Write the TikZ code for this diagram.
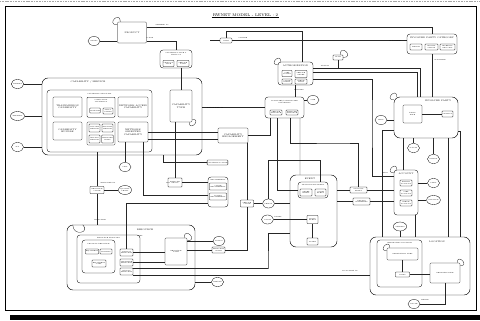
\documentclass[tikz,border=0pt]{standalone}
\usetikzlibrary{arrows.meta, positioning, shapes.geometric}
\newcommand\lbl{\fontsize{3.1}{3.5}\selectfont}
\newcommand\tnl{\fontsize{2.1}{2.4}\selectfont}

\begin{document}
\begin{tikzpicture}[
  x=0.5mm, y=-0.5mm,
  line width=0.45pt,
  wh/.style 2 args={minimum width=#1*0.5mm, minimum height=#2*0.5mm},
  ent/.style={rectangle, draw, rounded corners=0.5mm, inner sep=0.3mm, align=center, font=\lbl},
  sub/.style={rectangle, draw, rounded corners=0.3mm, inner sep=0.2mm, align=center, font=\tnl},
  grp/.style={rectangle, draw, rounded corners=3mm, line width=0.6pt},
  grpin/.style={rectangle, draw, rounded corners=1.5mm},
  ext/.style={ellipse, draw, wh={12}{9}, inner sep=0pt, align=center, font=\tnl},
  hdr/.style={font=\lbl, inner sep=0.2mm},
  tag/.style={font=\tnl, inner sep=0.2mm, align=left},
  rel/.style={draw=black!85}
]
\useasboundingbox (0,0) rectangle (480,320);

% Frame and title
\draw[black!35, line width=1.4pt, dash pattern=on 1.5pt off 0.8pt] (0,1.3) -- (480,1.3);
\draw[line width=0.9pt] (5,6.5) rectangle (476,310);
\fill[black] (10,314.5) rectangle (480,320);
\node[font=\fontsize{5.6}{6}\selectfont, inner sep=0.4mm] (title) at (245.5,15) {RWNET MODEL - LEVEL : 2};
\draw (title.south west) -- (title.south east);

% Product and top row
\node[ent, wh={29}{21}] (product) at (132,32.5) {PRODUCT};
\node[ext] (o1) at (94,41) {GOODS};
\node[ent, wh={12}{5}, font=\tnl] (date) at (226,40.5) {DATE};
\coordinate (dfree) at (210,40.5);
\node[grpin, wh={50}{20}] (ipc) at (432,44) {};
\node[hdr] (ipclbl) at (432,38) {INVOLVED PARTY CATEGORY};
\node[sub, wh={12}{6}] (ipc1) at (416,47) {PERSON};
\node[sub, wh={13}{6}] (ipc2) at (431.5,47) {ORGANI-\\SATION};
\node[sub, wh={15}{6}] (ipc3) at (447.5,47) {INTERNAL\\ORG UNIT};
\node[sub, wh={10}{5}] (smallT) at (338,57.5) {RULE};

% Capability type and product
\node[grpin, wh={32}{18}] (ctp) at (176,59) {};
\node[hdr, font=\tnl, align=center] (ctplbl) at (176,54) {CAPABILITY TYPE \&\\PRODUCT};
\node[sub, wh={11}{6}] (ctp1) at (168.5,63.5) {PRODUCT\\TYPE};
\node[sub, wh={12}{6}] (ctp2) at (183,63.5) {SERVICE\\TYPE};

% Authorization and activated capability
\node[grpin, wh={35}{23}] (auth) at (295.5,73.5) {};
\node[hdr] (authlbl) at (295.5,66) {AUTHORIZATION};
\node[sub, wh={10}{6}] (au1) at (287,73.5) {USER\\ACCESS};
\node[sub, wh={12}{7}] (au2) at (301,74) {SERVICE\\ORDER};
\node[sub, wh={10}{5}] (au3) at (287,81.5) {USAGE\\RIGHT};
\node[sub, wh={12}{5}] (au4) at (301,81.5) {CREDIT\\LIMIT};
\node[grpin, wh={39}{21}] (actcap) at (284.5,107.5) {};
\node[hdr, font=\tnl, align=center] (actcaplbl) at (284.5,102) {ACTIVATED/CONTRACTED\\CAPABILITY};
\node[sub, wh={12}{5}] (ac1) at (276,112.5) {SERVICE\\INSTANCE};
\node[sub, wh={12}{5}] (ac2) at (292,112.5) {FEATURE\\INSTANCE};
\node[ext] (o19) at (313,100) {SITE};

% Capability / service
\node[grp, wh={160}{77}] (capsvc) at (122,116.5) {};
\node[hdr] (capsvclbl) at (88,81.5) {CAPABILITY / SERVICE};
\node[grpin, wh={105}{62}] (capgrp) at (99.5,121) {};
\node[hdr, font=\tnl] (capgrplbl) at (99.5,93.5) {CAPABILITY GROUPING};
\node[ent, wh={29}{20}] (trans) at (67.5,107) {TRANSMISSION\\CAPABILITY};
\node[ent, wh={28}{20}, anchor=north, font=\tnl] (comp) at (101,97) {COMPUTING\\CAPABILITY\\[5.5mm]};
\node[sub, wh={10}{5}] (comp1) at (95,110.5) {STORAGE};
\node[sub, wh={10}{6}] (comp2) at (108,111) {APPLI-\\CATION};
\node[ent, wh={30}{20}] (netacc) at (133,107) {NETWORK ACCESS\\CAPABILITY};
\node[ent, wh={29}{18}] (capbund) at (67.5,131) {CAPABILITY\\BUNDLE};
\node[ent, wh={28}{23}] (cgmid) at (101,133.5) {};
\node[sub, wh={11}{8}] (cg1) at (94.5,128) {SUPPORT\\SERVICE};
\node[sub, wh={11}{8}] (cg2) at (107.5,128) {SECURITY\\SERVICE};
\node[sub, wh={11}{8}] (cg3) at (94.5,139) {BILLING\\SERVICE};
\node[sub, wh={11}{8}] (cg4) at (107.5,139) {NETWORK\\MGMT};
\node[ent, wh={30}{20}] (netor) at (133,132) {NETWORK\\ORIENTED\\CAPABILITY};
\node[ent, wh={22}{32}] (captype) at (181,106) {CAPABILITY\\TYPE};
\node[ext] (o2) at (17.5,84) {MARKET};
\node[ext] (o3) at (17.5,116) {SEGMENT};
\node[ext] (o4) at (17.5,147) {SLA};

% Middle area
\node[ent, wh={30}{15}] (capeng) at (233,135.5) {CAPABILITY\\ENGAGEMENT};
\node[sub, wh={15}{5}] (smallA) at (217.5,162.5) {CAPABILITY USAGE};
\node[grpin, wh={20}{30}] (entl) at (218,192) {};
\node[hdr, font=\tnl, align=center] (entllbl) at (218,180) {ENTITLEMENT};
\node[sub, wh={17}{7}] (en1) at (218,186.5) {USAGE\\ENTITLEMENT};
\node[sub, wh={17}{7}] (en2) at (218,196.5) {ACCESS\\ENTITLEMENT};
\node[sub, wh={14}{9}] (boxP) at (175,182.5) {FEATURE\\GROUP};
\node[sub, wh={14}{7}] (boxQ) at (97,190) {RESOURCE\\USAGE};
\node[ext] (o5) at (125,167) {UNIT};
\node[ext] (o6) at (125,190) {QUALITY\\LEVEL};
\node[sub, wh={13}{7}] (boxR) at (247,203.5) {SERVICE\\USAGE};
\node[ext] (o8) at (268.5,203.5) {PERIOD};
\node[ext] (o9) at (219,241) {STATUS};
\node[sub, wh={13}{6}] (boxS) at (218.5,250) {RESOURCE\\STATE};
\node[ext] (o10) at (217.5,282) {VENDOR};
\node[ext] (o11) at (267.5,219.5) {CAUSE};

% Event
\node[grp, wh={47}{72}] (event) at (313.5,211) {};
\node[hdr] (eventlbl) at (310,178.5) {EVENT};
\node[grpin, wh={30}{16}] (eventin) at (313,190) {};
\node[hdr, font=\tnl] (eventinlbl) at (313,184.5) {TRANSACTION EVENT};
\node[sub, wh={12}{7}] (ev1) at (306,192.5) {ORDER\\EVENT};
\node[sub, wh={11}{7}] (ev2) at (320.5,192.5) {USAGE\\EVENT};
\node[sub, wh={11}{8}] (boxE1) at (312.5,219.5) {FAULT\\EVENT};
\node[sub, wh={11}{7}] (boxE2) at (312.5,241.5) {ALARM};
\node[sub, wh={17}{6}] (box1) at (358.5,190) {ACCOUNT\\ENTRY};
\node[sub, wh={17}{7}] (box2) at (361.5,201.5) {BILLING\\STATEMENT};

% Involved party and account
\node[grp, wh={64}{41}] (ip) at (426,117.5) {};
\node[hdr] (iplbl) at (438,101) {INVOLVED PARTY};
\node[ent, wh={19}{18}, font=\tnl] (ipn) at (412.5,114) {PARTY\\ROLE};
\node[sub, wh={11}{6}] (person) at (447.5,114) {CONTACT};
\node[ext] (o12) at (381,120) {SKILL};
\node[ext] (o13) at (413.5,148) {SUPPLY};
\node[ext] (o14) at (433.5,159) {RATING};
\node[ext] (o15) at (433.5,183) {LIMIT};
\node[ext] (o16) at (433.5,200) {BALANCE};
\node[grpin, wh={24}{45}] (account) at (406,192.5) {};
\node[hdr] (accountlbl) at (406,173.5) {ACCOUNT};
\node[sub, wh={12}{6}] (acc1) at (406,183) {BILLING\\ACCOUNT};
\node[sub, wh={12}{6}] (acc2) at (406,193) {USER\\ACCOUNT};
\node[sub, wh={12}{6}] (acc3) at (406,203) {CREDIT\\ACCOUNT};
\node[ext] (o17) at (400,226.5) {ADDRESS};

% Location
\node[grp, wh={100}{58}] (location) at (420,266) {};
\node[hdr] (locationlbl) at (437,242) {LOCATION};
\node[grpin, wh={45}{47}] (geoloc) at (399.5,263.5) {};
\node[hdr, font=\tnl] (geoloclbl) at (399.5,243) {GEOGRAPHIC LOCATION};
\node[ent, wh={31}{12}, font=\tnl] (geoarea) at (402.5,254) {GEOGRAPHIC AREA};
\node[sub, wh={14}{5}] (geosmall) at (402.5,274.5) {POINT};
\node[ent, wh={30}{20}, font=\tnl] (netnode) at (445,273) {NETWORK NODE};
\node[ext] (o18) at (414,304) {ROUTE};

% Resource
\node[grp, wh={128}{65}] (resource) at (131,257.5) {};
\node[hdr] (resourcelbl) at (145,230) {RESOURCE};
\node[grpin, wh={63}{48}] (physres) at (108.5,259) {};
\node[hdr, font=\tnl] (physreslbl) at (108.5,237.5) {RESOURCE GROUPING};
\node[grpin, wh={33}{33}] (physin) at (98.5,256.5) {};
\node[hdr, font=\tnl] (physinlbl) at (98.5,243.5) {PHYSICAL RESOURCE};
\node[sub, wh={12}{5}] (pr1) at (92,251.5) {EQUIPMENT};
\node[sub, wh={12}{5}] (pr2) at (106,251.5) {FACILITY};
\node[sub, wh={14}{7}] (pr3) at (99,263.5) {EQUIPMENT\\PART};
\node[sub, wh={13}{7}] (rb1) at (126.5,252.5) {LOGICAL\\RESOURCE};
\node[sub, wh={13}{7}] (rb2) at (126.5,262.5) {SOFTWARE\\RESOURCE};
\node[sub, wh={13}{7}] (rb3) at (126.5,271.5) {CIRCUIT\\RESOURCE};
\node[ent, wh={22}{27}, font=\tnl] (restype) at (176,251.5) {RESOURCE\\TYPE};

% Self loops
\draw[rel] ([xshift=1.5mm]product.north west) .. controls +(0,-12) and +(-12,0) .. ([yshift=-1.5mm]product.north west);
\draw[rel] ([xshift=1.5mm]auth.north west) .. controls +(0,-10) and +(-10,0) .. ([yshift=-1.5mm]auth.north west);
\draw[rel] ([xshift=-1.5mm]smallT.north east) .. controls +(0,-12) and +(12,0) .. (smallT.east);
\draw[rel] ([xshift=1.5mm]ip.north west) .. controls +(0,-10) and +(-10,0) .. ([yshift=-1.5mm]ip.north west);
\draw[rel] ([xshift=1.5mm]account.north west) .. controls +(0,-10) and +(-10,0) .. ([yshift=-1.5mm]account.north west);
\draw[rel] ([yshift=1.5mm]captype.south east) .. controls +(10,0) and +(0,10) .. ([xshift=-1.5mm]captype.south east);
\draw[rel] ([xshift=3mm]resource.north west) .. controls +(0,12) and +(8,8) .. ([xshift=8mm]resource.north west);
\draw[rel] ([xshift=-1.5mm]restype.north east) .. controls +(0,-12) and +(12,0) .. ([yshift=-1.5mm]restype.north east);
\draw[rel] ([xshift=1.5mm]geoarea.north west) .. controls +(0,-10) and +(-10,0) .. ([yshift=-1.5mm]geoarea.north west);
\draw[rel] ([xshift=-1.5mm]netnode.north east) .. controls +(0,-10) and +(10,0) .. ([yshift=-1.5mm]netnode.north east);

% Top connectors
\coordinate (b1) at (302,31);
\coordinate (b6) at (338,68);
\draw[rel] (o1.east) -- (o1.east -| product.west);
\draw[rel] ([yshift=-4.25mm]product.east) -| (ctp.north);
\draw[rel] ([yshift=2.5mm]product.east) -| (ipc.north);
\draw[rel] (date.west) -- (dfree);
\draw[rel] (date.east) -- (date.east -| ipc.west);
\draw[rel] (date.north) |- (b1) -- (b1 |- auth.north);
\draw[rel] (ipc.south) -- (ipc.south |- ip.north);
\draw[rel] (captype.north) -- (captype.north |- ctp.south);
\draw[rel] (auth.south) -- (auth.south |- actcap.north);
\draw[rel] ([yshift=2.75mm]auth.east) -| ([xshift=-3mm]ip.north);
\draw[rel] ([yshift=0.75mm]auth.east) -| ([xshift=-4.5mm]ip.north);
\draw[rel] (smallT.south) -- (b6);
\draw[rel] (o19.west) -- (o19.west -| actcap.east);

% Capability connectors
\draw[rel] (o2.east) -- (o2.east -| capsvc.west);
\draw[rel] (o3.east) -- (o3.east -| capsvc.west);
\draw[rel] (o4.east) -- (o4.east -| capsvc.west);
\draw[rel] (capsvc.east |- actcap.west) -- (actcap.west);
\draw[rel] (netor.east) -- (netor.east -| capeng.west);
\draw[rel] ([yshift=-3.5mm]netor.east) -- ([yshift=-3.5mm]netor.east -| capeng.west);
\draw[rel] (capeng.east) -| ([xshift=-7mm]actcap.south);
\draw[rel] (boxP.north) -- (boxP.north |- captype.south);
\draw[rel] ([xshift=20.5mm]capsvc.south) |- (smallA.west);
\draw[rel] ([xshift=7mm]capeng.south) -- ([xshift=7mm]capeng.south |- boxR.north);
\draw[rel] (boxR.south) |- (boxS.east);
\draw[rel] (boxR.east) -- (o8.west);
\draw[rel] (o8.east) -- (o8.east -| event.west);
\coordinate (b3) at (320,160);
\draw[rel] (o8.north) |- (b3) -- (b3 |- eventin.north);
\draw[rel] ([xshift=-3.5mm]actcap.south) |- (eventin.west);
\coordinate (b2) at (342,143);
\draw[rel] ([xshift=2.75mm]actcap.south) |- (b2) -| (box1.north);
\draw[rel] ([xshift=7.75mm]actcap.south) -- ([xshift=-6.75mm]event.north);

% Entitlement and usage connectors
\draw[rel] (boxP.east) -- (boxP.east -| entl.west);
\draw[rel] ([xshift=5mm]netor.south) |- ([yshift=-1.5mm]entl.west);
\draw[rel] (rb1.north) |- ([yshift=-5.5mm]entl.west);
\draw[rel] (boxQ.north) -- (boxQ.north |- capgrp.south);
\draw[rel] (boxQ.south) -- (boxQ.south |- resource.north);
\draw[rel] (boxQ.east) -- (o6.west);
\draw[rel] (o5.north) -- (o5.north |- netor.south);

% Resource connectors
\coordinate (b8) at (268,268);
\draw[rel] (rb1.east) -- (rb1.east -| restype.west);
\draw[rel] (rb2.east) -- (rb2.east -| restype.west);
\draw[rel] ([yshift=1.75mm]rb3.east) -| (b8) |- ([yshift=-11mm]event.west);
\draw[rel] ([yshift=-1.75mm]rb3.east) -- ([yshift=-1.75mm]rb3.east -| location.west);
\draw[rel] (restype.east |- o9.west) -- (o9.west);
\draw[rel] (restype.east |- boxS.west) -- (boxS.west);
\draw[rel] (resource.east |- o10.west) -- (o10.west);

% Event and account connectors
\draw[rel] (o11.east) -- (o11.east -| boxE1.west);
\draw[rel] (boxE1.south) -- (boxE2.north);
\draw[rel] (event.east |- box1.west) -- (box1.west);
\draw[rel] (event.east |- box2.west) -- (box2.west);
\draw[rel] (box1.east) -- (box1.east -| account.west);
\draw[rel] (box2.east) -- (box2.east -| account.west);
\coordinate (b4) at (372,120);
\draw[rel] ([yshift=-3mm]auth.east) -| (b4) |- ([yshift=8mm]account.west);

% Involved party connectors
\coordinate (b5) at (382,130);
\draw[rel] (o12.east) -- (o12.east -| ip.west);
\draw[rel] (ipn.east) -- (person.west);
\draw[rel] ([yshift=-6.25mm]ip.west) -| (b5 |- location.north);
\draw[rel] ([xshift=-11.5mm]ip.south) -- ([xshift=-11.5mm]ip.south |- account.north);
\draw[rel] (o13.north) -- (o13.north |- ip.south);
\draw[rel] (o14.north) -- (o14.north |- ip.south);
\draw[rel] ([xshift=11mm]ip.south) -- ([xshift=11mm]ip.south |- location.north);
\draw[rel] ([yshift=-7mm]ip.east) -| ([xshift=20mm]location.north);
\draw[rel] (o15.west) -- (o15.west -| account.east);
\draw[rel] (o16.west) -- (o16.west -| account.east);

% Location connectors
\draw[rel] (o17.south) -- (o17.south |- location.north);
\draw[rel] ([xshift=4.5mm]account.south) -- ([xshift=4.5mm]account.south |- location.north);
\draw[rel] (geoarea.south) -- (geosmall.north);
\draw[rel] (geosmall.east) -- (geosmall.east -| netnode.west);
\draw[rel] (o18.east) -| (netnode.south);

% Relation labels
\node[tag] (t1) at (162,25) {OFFERED AS};
\node[tag] (t2) at (150,38) {IS FOR};
\node[tag] (t3) at (243,38) {CHANGE};
\node[tag] (t4) at (395,41) {CLASSIFIES};
\node[tag] (t5) at (440,60) {CLASSIFIES};
\node[tag] (t6) at (325,65.5) {GRANTS};
\node[tag] (t7) at (299,90) {ENABLES};
\node[tag] (t8) at (215,107.5) {IS PROVIDED AS};
\node[tag] (t9) at (168,183) {HAS};
\node[tag] (t10) at (108,183) {MEASURED BY};
\node[tag] (t11) at (140,236) {USES};
\node[tag] (t12) at (350,270.5) {IS LOCATED AT};
\node[tag] (t13) at (385,172.5) {OWNS};
\node[tag] (t14) at (425,300) {SERVES};
\node[tag] (t15) at (278,216.5) {RAISES};
\node[tag] (t16) at (100,220) {ALLOCATES};
\end{tikzpicture}
\end{document}
